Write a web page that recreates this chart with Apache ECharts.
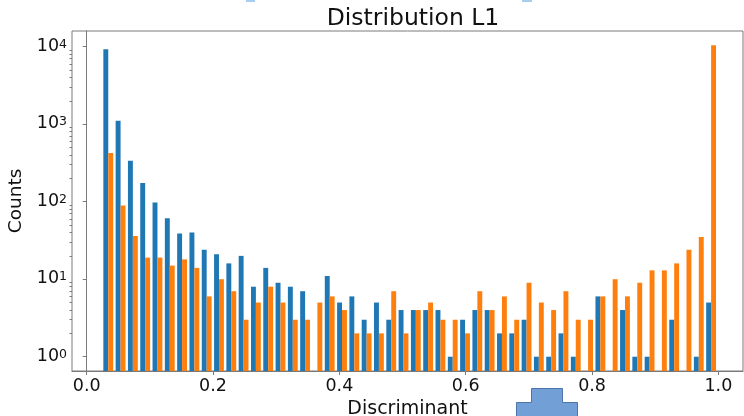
<!DOCTYPE html>
<html>
<head>
<meta charset="utf-8">
<script src="https://cdn.jsdelivr.net/npm/echarts@6/dist/echarts.min.js"></script>
<style>html,body{margin:0;padding:0;background:#fff}#c{width:744px;height:416px}</style>
</head>
<body>
<div id="c"></div>
<script>
// Histogram bins (matplotlib-style, 50 equal bins)
const binStart = 0.0244;
const binEnd = 0.9982;
const binCount = 50;

const blueCounts = [9240,1110,338,174,98,61,39,40,24,21,16,20,8,14,9,8,7,0,11,5,6,3,5,3,4,4,4,4,1,3,4,4,2,2,3,1,1,2,1,0,6,0,4,1,1,0,3,0,1,5];
const orangeCounts = [425,89,36,19,19,15,18,14,6,10,7,3,5,8,5,3,3,5,6,4,2,2,2,7,2,4,5,3,3,2,7,4,6,3,9,5,4,7,3,3,6,10,6,9,13,13,16,24,35,10400];

const xTickValues = [0, 0.2, 0.4, 0.6, 0.8, 1.0];
const yTickValues = [1, 10, 100, 1000, 10000];
const yMinorTickValues = [2,3,4,5,6,7,8,9,20,30,40,50,60,70,80,90,200,300,400,500,600,700,800,900,2000,3000,4000,5000,6000,7000,8000,9000];

const FONT = 'DejaVu Sans';
const TXT = '#111';
const AX = '#7a7a7a';

const binWidth = (binEnd - binStart) / binCount;
function buildData(counts, slot) {
  const out = [];
  counts.forEach((c, i) => {
    if (c > 0) out.push([binStart + i * binWidth, binStart + (i + 1) * binWidth, c, slot]);
  });
  return out;
}

function renderItem(params, api) {
  const lo = api.value(0), hi = api.value(1), v = api.value(2), slot = api.value(3);
  const w = hi - lo;
  const x0 = lo + w * (0.1 + 0.4 * slot);
  const x1 = x0 + 0.4 * w;
  const p0 = api.coord([x0, v]);
  const p1 = api.coord([x1, v]);
  const bottom = params.coordSys.y + params.coordSys.height;
  return {
    type: 'rect',
    shape: { x: p0[0], y: p0[1], width: p1[0] - p0[0], height: bottom - p0[1] },
    style: api.style()
  };
}

const chart = echarts.init(document.getElementById('c'), null, { renderer: 'canvas' });
chart.setOption({
  animation: false,
  backgroundColor: '#fff',
  title: {
    text: 'Distribution L1',
    left: 408, top: 2, textAlign: 'center',
    textStyle: { fontFamily: FONT, fontSize: 23.5, fontWeight: 'normal', color: TXT }
  },
  grid: {
    left: 72, top: 31, width: 671, height: 340,
    outerBoundsMode: 'none', containLabel: false,
    show: true, borderColor: AX, borderWidth: 1, backgroundColor: 'transparent'
  },
  xAxis: {
    type: 'value',
    min: -0.02327, max: 1.03897,
    name: 'Discriminant', nameLocation: 'middle', nameGap: 23,
    nameTextStyle: { fontFamily: FONT, fontSize: 19, color: TXT },
    axisLine: { show: true, lineStyle: { color: AX } },
    axisTick: { show: true, customValues: xTickValues, length: 4, lineStyle: { color: AX } },
    axisLabel: { customValues: xTickValues, margin: 6, fontFamily: FONT, fontSize: 17.5, color: TXT,
      formatter: v => v.toFixed(1) },
    splitLine: { show: false }
  },
  yAxis: [{
    type: 'log', logBase: 10,
    min: 0.654, max: 15940,
    position: 'left',
    name: 'Counts', nameLocation: 'middle', nameGap: 33, nameRotate: 90,
    nameTextStyle: { fontFamily: FONT, fontSize: 18.5, color: TXT },
    axisLine: { show: true, lineStyle: { color: AX } },
    axisTick: { show: true, customValues: yTickValues, length: 4, lineStyle: { color: AX } },
    axisLabel: {
      customValues: yTickValues, margin: 5, color: TXT,
      formatter: v => '{b|10}{s|' + Math.round(Math.log10(v)) + '}',
      rich: {
        b: { fontFamily: FONT, fontSize: 17.5, lineHeight: 17, verticalAlign: 'bottom', padding: [5, 0, 0, 0], color: TXT },
        s: { fontFamily: FONT, fontSize: 12.5, lineHeight: 12.5, verticalAlign: 'top', color: TXT }
      }
    },
    splitLine: { show: false }
  }, {
    type: 'log', logBase: 10,
    min: 0.654, max: 15940,
    position: 'left',
    axisLine: { show: false },
    axisTick: { show: true, customValues: yMinorTickValues, length: 2.5, lineStyle: { color: AX } },
    axisLabel: { show: false },
    splitLine: { show: false }
  }],
  series: [{
    type: 'custom', name: 'blue', renderItem, clip: true,
    encode: { x: [0, 1], y: 2 },
    itemStyle: { color: '#1f77b4' },
    data: buildData(blueCounts, 0)
  }, {
    type: 'custom', name: 'orange', renderItem, clip: true,
    encode: { x: [0, 1], y: 2 },
    itemStyle: { color: '#ff7f0e' },
    data: buildData(orangeCounts, 1)
  }],
  graphic: [
    { type: 'polygon', silent: true,
      shape: { points: [[531.5,388.5],[562.5,388.5],[562.5,402.5],[577.5,402.5],[577.5,417],[516.5,417],[516.5,402.5],[531.5,402.5]] },
      style: { fill: '#729fd6', stroke: '#4d74aa', lineWidth: 1 } },
    { type: 'rect', silent: true, shape: { x: 246, y: 0, width: 9, height: 2 }, style: { fill: '#a9cdf0' } },
    { type: 'rect', silent: true, shape: { x: 522, y: 0, width: 10, height: 2 }, style: { fill: '#a9cdf0' } }
  ]
});
</script>
</body>
</html>
